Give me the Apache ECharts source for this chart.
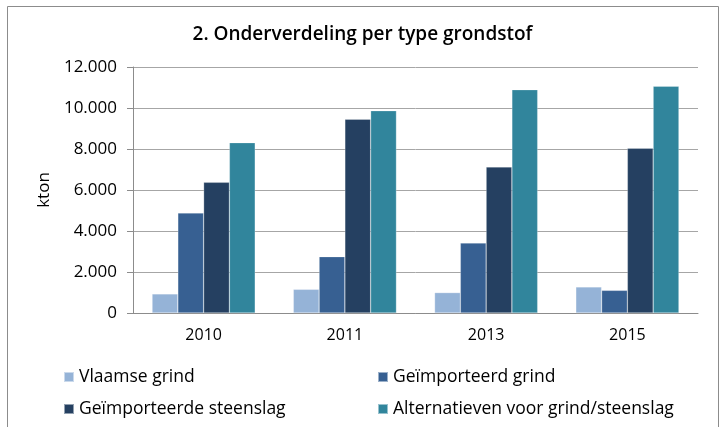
<!DOCTYPE html>
<html style="height: 100%">

<head>
  <meta charset="utf-8">
</head>

<body style="height: 100%; margin: 0; background: #fff">
  <div id="container" style="width: 725px; height: 427px"></div>
  <script type="text/javascript" src="https://cdn.jsdelivr.net/npm/echarts@6/dist/echarts.min.js"></script>
  <script type="text/javascript">
  var years = ['2010', '2011', '2013', '2015'];
  var vlaamseGrind = [930, 1155, 995, 1270];
  var geimporteerdGrind = [4880, 2750, 3415, 1105];
  var geimporteerdeSteenslag = [6375, 9450, 7125, 8035];
  var alternatieven = [8310, 9870, 10895, 11060];

  var names = ['Vlaamse grind', 'Geïmporteerd grind', 'Geïmporteerde steenslag', 'Alternatieven voor grind/steenslag'];
  var colors = ['#95b3d7', '#376092', '#254061', '#31859c'];

  var dom = document.getElementById('container');
  var myChart = echarts.init(dom);

  var font = 'Open Sans';

  function bar(i, values) {
    return {
      name: names[i],
      type: 'bar',
      data: values,
      barGap: '0%',
      barCategoryGap: '27%',
      itemStyle: { color: colors[i], borderColor: 'rgba(255,255,255,0.5)', borderWidth: 0.5 }
    };
  }

  var legendText = { fontFamily: font, fontSize: 17.5, color: '#000' };

  var option = {
    animation: false,
    backgroundColor: '#fff',
    textStyle: { fontFamily: font },
    title: {
      text: '2. Onderverdeling per type grondstof',
      left: 'center',
      top: 20,
      textStyle: { fontFamily: font, fontSize: 19, fontWeight: 600, color: '#000' }
    },
    graphic: [{
      type: 'rect',
      shape: { x: 7.5, y: 6.5, width: 711, height: 440 },
      style: { fill: 'none', stroke: '#8c8c8c', lineWidth: 1 },
      z: -1
    }],
    legend: [{
      orient: 'vertical',
      left: 58,
      top: 363,
      itemWidth: 10,
      itemHeight: 10,
      itemGap: 14,
      icon: 'rect',
      textStyle: legendText,
      data: [names[0], names[2]]
    }, {
      orient: 'vertical',
      left: 372,
      top: 363,
      itemWidth: 10,
      itemHeight: 10,
      itemGap: 14,
      icon: 'rect',
      textStyle: legendText,
      data: [names[1], names[3]]
    }],
    grid: { left: 133, right: 27, top: 67, bottom: 114 },
    xAxis: {
      type: 'category',
      data: years,
      axisLine: { lineStyle: { color: '#8c8c8c' } },
      axisTick: { length: 5, lineStyle: { color: '#8c8c8c' } },
      axisLabel: { fontFamily: font, fontSize: 16, color: '#000', margin: 14 }
    },
    yAxis: {
      type: 'value',
      min: 0,
      max: 12000,
      interval: 2000,
      name: 'kton',
      nameLocation: 'middle',
      nameGap: 80,
      nameTextStyle: { fontFamily: font, fontSize: 17, color: '#000' },
      axisLine: { show: true, lineStyle: { color: '#8c8c8c' } },
      axisTick: { show: true, length: 6, lineStyle: { color: '#8c8c8c' } },
      splitLine: { lineStyle: { color: '#a6a6a6' } },
      axisLabel: {
        fontFamily: font,
        fontSize: 17,
        color: '#000',
        margin: 16,
        formatter: function (v) {
          return String(v).replace(/\B(?=(\d{3})+(?!\d))/g, '.');
        }
      }
    },
    series: [
      bar(0, vlaamseGrind),
      bar(1, geimporteerdGrind),
      bar(2, geimporteerdeSteenslag),
      bar(3, alternatieven)
    ]
  };

  myChart.setOption(option);
  </script>
</body>

</html>
